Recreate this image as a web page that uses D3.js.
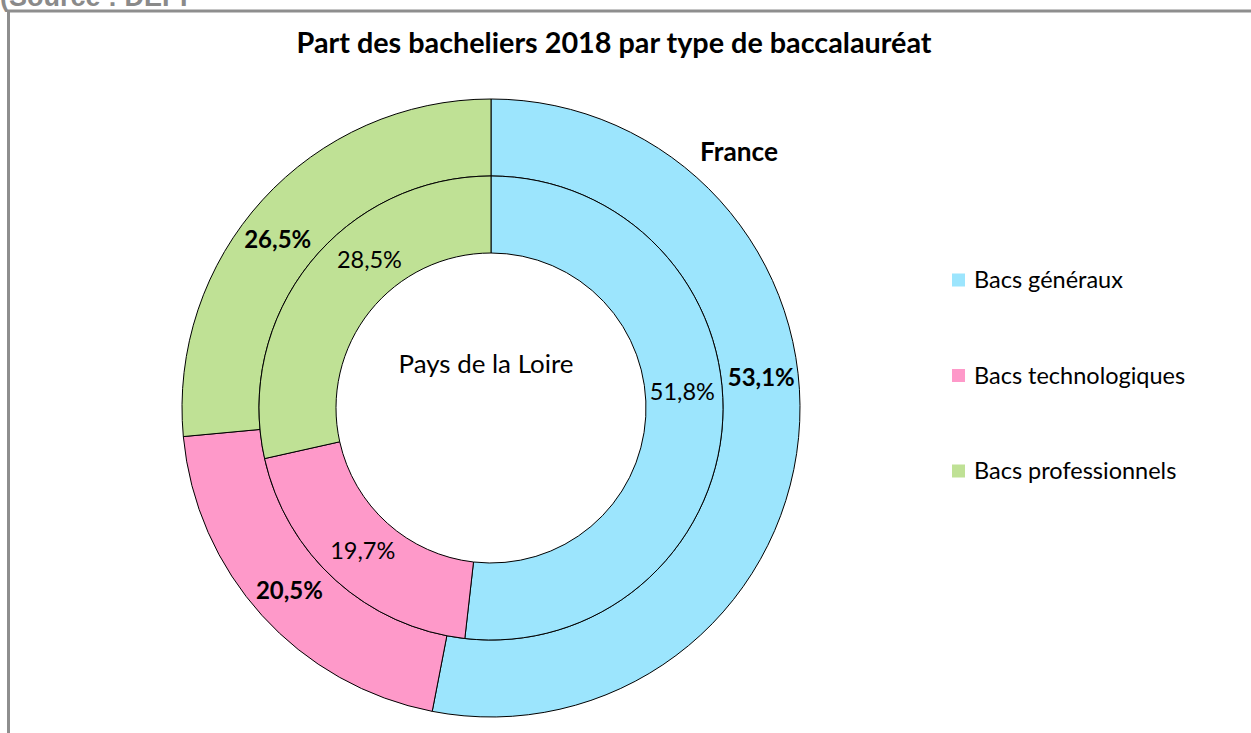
<!DOCTYPE html>
<html>
<head>
<meta charset="utf-8">
<script src="https://cdn.jsdelivr.net/npm/d3@7"></script>
<style>
  body { margin: 0; background: #fff; }
  svg { display: block; }
</style>
</head>
<body>
<svg id="chart"></svg>
<script>
// data
var categories = ["Bacs généraux", "Bacs technologiques", "Bacs professionnels"]
var france = [53.1, 20.5, 26.5]        // outer ring
var paysDeLaLoire = [51.8, 19.7, 28.5] // inner ring
var colors = ["#9ce5fd", "#fe99c9", "#bfe195"]

var width = 1251, height = 733
var cx = 491, cy = 408
var rHole = 155, rMid = 232, rOuter = 309

var svg = d3.select("#chart").attr("width", width).attr("height", height)

// shrink / grow a text so that it spans the wanted width
function fit(sel, target) {
  var size = +sel.attr("font-size")
  var w = sel.node().getComputedTextLength()
  sel.attr("font-size", (size * target / w).toFixed(2))
}

// source line cut at the top and grey frame
svg.append("text")
  .attr("x", 0).attr("y", 6)
  .attr("font-family", "Liberation Sans, Arial, sans-serif")
  .attr("font-weight", "bold")
  .attr("font-size", 27)
  .attr("fill", "#8a8a8a")
  .text("(Source : DEPP")

svg.append("rect")
  .attr("x", 8.5).attr("y", 11)
  .attr("width", width + 20).attr("height", height + 20)
  .attr("fill", "none")
  .attr("stroke", "#8e8e8e")
  .attr("stroke-width", 3)

var font = "Lato, 'Open Sans', sans-serif"

var title = svg.append("text")
  .attr("x", 614).attr("y", 53)
  .attr("text-anchor", "middle")
  .attr("font-family", font)
  .attr("font-weight", "bold")
  .attr("font-size", 25)
  .attr("fill", "#000")
  .text("Part des bacheliers 2018 par type de baccalauréat")
fit(title, 635)

var pie = d3.pie().sort(null).value(function(d) { return d })
var g = svg.append("g").attr("transform", "translate(" + cx + "," + cy + ")")

function ring(values, r0, r1, cls) {
  var arc = d3.arc().innerRadius(r0).outerRadius(r1)
  var arcs = pie(values)
  g.selectAll("path." + cls)
    .data(arcs)
    .enter()
    .append("path")
      .attr("class", cls)
      .attr("d", arc)
      .attr("fill", function(d, i) { return colors[i] })
      .attr("stroke", "#000")
      .attr("stroke-width", 1)
  return arcs
}

var outerArcs = ring(france, rMid, rOuter, "outer")
var innerArcs = ring(paysDeLaLoire, rHole, rMid, "inner")

// label nudges (degrees) to follow the original placement
var outerNudge = [-12, 0, -4]
var innerNudge = [-8, 0, 12]

function labels(arcs, values, r, nudge, bold, size) {
  return g.selectAll("text.l" + r)
    .data(arcs)
    .enter()
    .append("text")
      .attr("class", "l" + r)
      .attr("x", function(d, i) { var a = (d.startAngle + d.endAngle) / 2 + nudge[i] * Math.PI / 180; return Math.sin(a) * r })
      .attr("y", function(d, i) { var a = (d.startAngle + d.endAngle) / 2 + nudge[i] * Math.PI / 180; return -Math.cos(a) * r })
      .attr("dy", "0.35em")
      .attr("text-anchor", "middle")
      .attr("font-family", font)
      .attr("font-weight", bold ? "bold" : "normal")
      .attr("font-size", size)
      .attr("fill", "#000")
      .text(function(d, i) { return values[i].toFixed(1).replace(".", ",") + "%" })
}
labels(outerArcs, france, 272, outerNudge, true, 24)
labels(innerArcs, paysDeLaLoire, 192, innerNudge, false, 23.5)

var fr = svg.append("text")
  .attr("x", 739).attr("y", 152).attr("dy", "0.35em")
  .attr("text-anchor", "middle")
  .attr("font-family", font).attr("font-weight", "bold").attr("font-size", 21)
  .text("France")
fit(fr, 78)

var pays = svg.append("text")
  .attr("x", 486).attr("y", 364).attr("dy", "0.35em")
  .attr("text-anchor", "middle")
  .attr("font-family", font).attr("font-size", 21)
  .text("Pays de la Loire")
fit(pays, 175)

// legend
var legendY = d3.scalePoint().domain(categories).range([280, 471])
var legend = svg.selectAll("g.legend")
  .data(categories)
  .enter()
  .append("g")
    .attr("class", "legend")
    .attr("transform", function(d) { return "translate(952," + legendY(d) + ")" })
legend.append("rect")
  .attr("x", 0).attr("y", -6.5)
  .attr("width", 13).attr("height", 13)
  .attr("fill", function(d, i) { return colors[i] })
legend.append("text")
  .attr("x", 22).attr("y", 0).attr("dy", "0.35em")
  .attr("font-family", font).attr("font-size", 23.5)
  .text(function(d) { return d })
</script>
</body>
</html>
